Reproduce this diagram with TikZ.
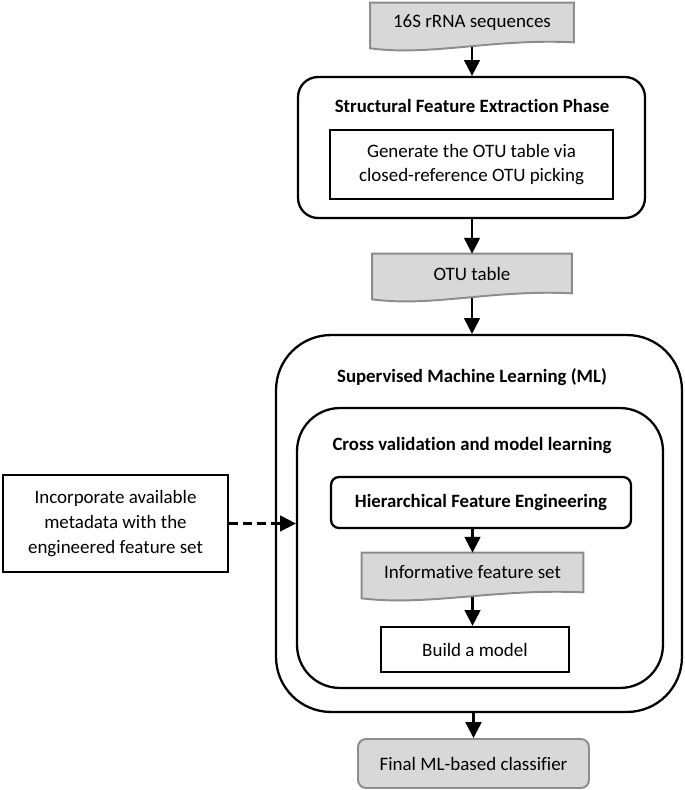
\documentclass[tikz,border=0pt]{standalone}
\usepackage{fontspec}
\setmainfont{Carlito}[Ligatures=NoCommon]
\usetikzlibrary{arrows.meta,calc,backgrounds}
\definecolor{docfill}{RGB}{216,216,216}
\definecolor{docgray}{RGB}{140,140,140}
\tikzset{
  box/.style={draw,line width=1.3pt,align=center,inner sep=0pt},
  docbox/.style={inner sep=0pt,align=center},
  docline/.style={fill=docfill,draw=docgray,line width=1.1pt},
  title/.style={font=\fontsize{10.7}{14}\selectfont\bfseries},
  arr/.style={line width=1.2pt,-{Triangle[length=9pt,width=9pt]}}
}
\newcommand{\docwave}[1]{%
  \begin{scope}[on background layer]
  \filldraw[docline] (#1.north west) -- (#1.north east) -- (#1.south east)
    .. controls ($(#1.south west)!0.6!(#1.south east)+(0,-4)$) and ($(#1.south west)!0.3!(#1.south east)+(0,14)$) .. ($(#1.south west)+(0,6)$) -- cycle;
  \end{scope}}

\begin{document}
\begin{tikzpicture}[x=0.02cm,y=-0.02cm,font=\fontsize{10.8}{14}\selectfont]
     \useasboundingbox (0,0) rectangle (685,790);
     \node[docbox,minimum width=4.06cm,minimum height=0.78cm] (seq) at (472,22.5) {16S rRNA sequences};
     \docwave{seq}
     \node[box,rounded corners=0.4cm,minimum width=6.94cm,minimum height=2.82cm] (struct) at (471.5,147.5) {};
     \node[title] (structtitle) at (472,106) {Structural Feature Extraction Phase};
     \node[box,minimum width=5.66cm,minimum height=1.38cm] (otugen) at (471.5,164.5) {Generate the OTU table via\\closed-reference OTU picking};
     \node[docbox,minimum width=3.98cm,minimum height=0.78cm] (otu) at (472,273.5) {OTU table};
     \docwave{otu}
     \node[box,rounded corners=1.1cm,minimum width=8.12cm,minimum height=7.54cm] (ml) at (479,523.5) {};
     \node[title] (mltitle) at (472,377) {Supervised Machine Learning (ML)};
     \node[box,rounded corners=0.86cm,minimum width=7.32cm,minimum height=5.6cm] (cv) at (480,548) {};
     \node[title] (cvtitle) at (472,445) {Cross validation and model learning};
     \node[box,title,rounded corners=0.16cm,minimum width=6cm,minimum height=1.02cm] (hfe) at (481,502.5) {Hierarchical Feature Engineering};
     \node[docbox,minimum width=4.42cm,minimum height=0.78cm] (ifs) at (472.5,572.5) {Informative feature set};
     \docwave{ifs}
     \node[box,minimum width=3.76cm,minimum height=0.9cm] (build) at (475,649.5) {Build a model};
     \node[docline,rounded corners=0.16cm,minimum width=4.62cm,minimum height=0.98cm,inner sep=0pt] (final) at (473.5,763.5) {Final ML-based classifier};
     \node[box,minimum width=4.5cm,minimum height=1.94cm] (meta) at (115.5,523.5) {Incorporate available\\metadata with the\\engineered feature set};
     \draw[arr] ($(seq.south)+(0,5)$) -- (seq.south |- struct.north);
     \draw[arr] (otu.north |- struct.south) -- (otu.north);
     \draw[arr] ($(otu.south)+(0,5)$) -- (otu.south |- ml.north);
     \draw[arr] (ifs.north |- hfe.south) -- (ifs.north);
     \draw[arr] ($(ifs.south)+(0,5)$) -- (ifs.south |- build.north);
     \draw[arr] (final.north |- ml.south) -- (final.north);
     \draw[arr,dash pattern=on 5pt off 3pt] (meta.east) -- (meta.east -| cv.west);
    \end{tikzpicture}
\end{document}
